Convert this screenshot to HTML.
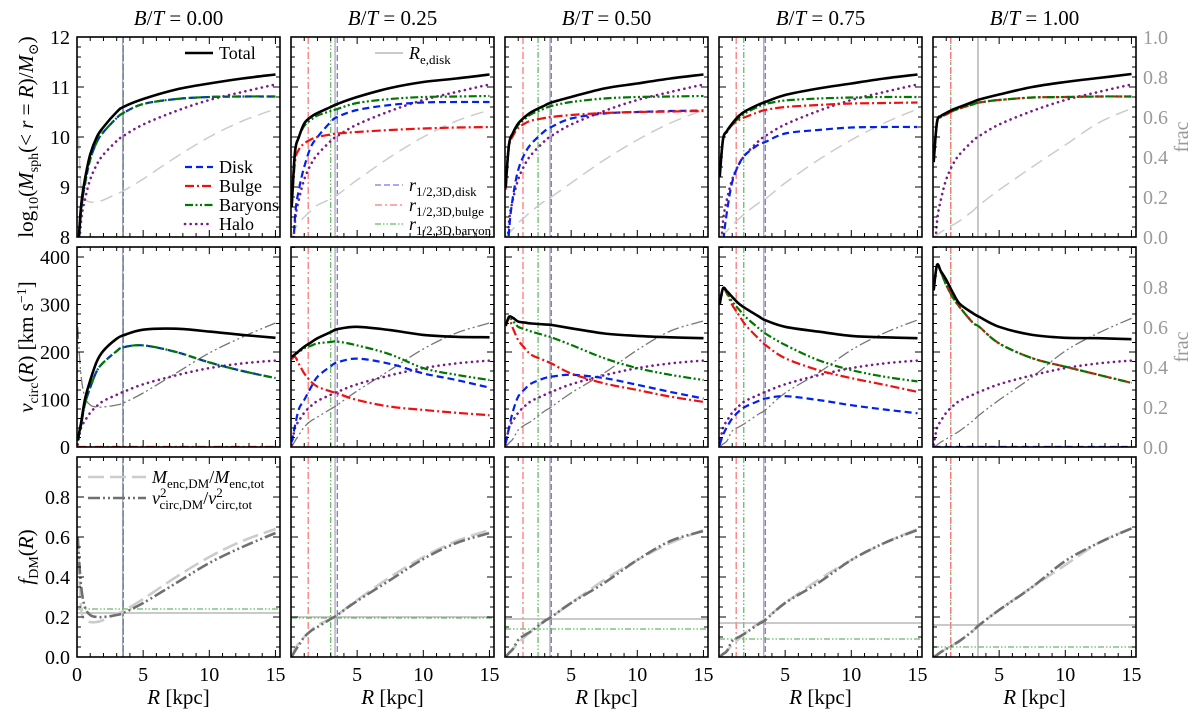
<!DOCTYPE html>
<html><head><meta charset="utf-8"><style>
body{margin:0;background:#fff;}
svg{display:block;}
svg text{font-family:"Liberation Serif","DejaVu Serif",serif;}
</style></head><body>
<svg id="fig" width="1200" height="720" viewBox="0 0 1200 720" xmlns="http://www.w3.org/2000/svg" font-family="Liberation Serif, serif"></svg>
<script>
// ---------- data ----------
const R = [0.05,0.3,0.6,1,1.5,2,3,3.5,5,7.5,10,12.5,15];
const titles = ["0.00","0.25","0.50","0.75","1.00"];
const massHalo = [7.3,8.3,8.75,9.15,9.45,9.65,9.92,10.02,10.25,10.52,10.74,10.9,11.05];
const massTotal = [
 [7.6,8.6,9.15,9.65,10.0,10.2,10.5,10.6,10.76,10.95,11.07,11.17,11.25],
 [8.6,9.7,10.0,10.27,10.4,10.48,10.6,10.66,10.8,10.98,11.1,11.17,11.25],
 [9.0,9.85,10.08,10.27,10.4,10.5,10.63,10.69,10.8,10.97,11.07,11.17,11.25],
 [9.2,9.95,10.12,10.27,10.42,10.52,10.65,10.7,10.84,10.97,11.07,11.17,11.25],
 [9.5,10.3,10.42,10.48,10.55,10.6,10.7,10.75,10.85,11.0,11.1,11.18,11.26]];
const massBaryon = [
 [7.5,8.5,9.05,9.55,9.9,10.1,10.38,10.48,10.66,10.76,10.8,10.81,10.81],
 [8.6,9.7,10.0,10.22,10.34,10.43,10.52,10.56,10.68,10.76,10.8,10.81,10.82],
 [9.0,9.85,10.07,10.24,10.36,10.46,10.57,10.62,10.7,10.77,10.8,10.81,10.82],
 [9.2,9.95,10.1,10.25,10.38,10.48,10.61,10.66,10.73,10.77,10.79,10.8,10.8],
 [9.5,10.28,10.4,10.45,10.52,10.57,10.65,10.69,10.74,10.79,10.8,10.81,10.81]];
const massBulge = [
 null,
 [8.6,9.5,9.75,9.87,9.95,10.0,10.05,10.07,10.1,10.14,10.17,10.19,10.2],
 [8.95,9.8,10.02,10.18,10.27,10.33,10.38,10.4,10.44,10.48,10.5,10.51,10.52],
 [9.2,9.95,10.1,10.24,10.34,10.4,10.5,10.54,10.6,10.64,10.67,10.68,10.69],
 [9.5,10.28,10.4,10.45,10.52,10.57,10.65,10.69,10.74,10.79,10.8,10.81,10.81]];
const massDisk = [
 [7.5,8.5,9.05,9.55,9.9,10.1,10.38,10.48,10.66,10.76,10.8,10.81,10.81],
 [7.0,8.4,8.95,9.4,9.8,10.0,10.3,10.4,10.54,10.64,10.69,10.7,10.7],
 [6.7,8.1,8.8,9.34,9.67,9.87,10.12,10.2,10.37,10.47,10.5,10.52,10.53],
 [6.4,7.8,8.5,9.1,9.45,9.65,9.85,9.9,10.07,10.14,10.19,10.2,10.2],
 null];
const fracM = [
 [0.6,0.25,0.19,0.175,0.175,0.185,0.215,0.23,0.29,0.4,0.5,0.58,0.64],
 [0.0,0.04,0.07,0.1,0.13,0.16,0.19,0.21,0.285,0.4,0.5,0.58,0.635],
 [0.0,0.02,0.04,0.07,0.1,0.13,0.18,0.2,0.27,0.385,0.485,0.57,0.635],
 [0.0,0.015,0.03,0.06,0.09,0.12,0.17,0.19,0.27,0.385,0.485,0.57,0.64],
 [0.0,0.01,0.025,0.04,0.06,0.08,0.13,0.16,0.235,0.35,0.46,0.57,0.643]];
const fracV = [
 [0.6,0.36,0.25,0.21,0.2,0.2,0.21,0.22,0.27,0.37,0.47,0.55,0.62],
 [0.0,0.03,0.06,0.1,0.13,0.15,0.19,0.21,0.28,0.385,0.49,0.57,0.62],
 [0.0,0.02,0.04,0.085,0.11,0.13,0.18,0.2,0.27,0.37,0.485,0.58,0.63],
 [0.0,0.015,0.03,0.08,0.1,0.12,0.165,0.185,0.27,0.37,0.485,0.57,0.635],
 [0.0,0.01,0.025,0.04,0.06,0.08,0.13,0.16,0.235,0.35,0.48,0.57,0.643]];
const vHalo = [5,40,55,72,86,97,110,116,132,151,166,176,182];
const vTotal = [
 [15,50,100,140,180,203,228,235,247,249,243,236,230],
 [190,195,202,211,220,229,242,248,253,246,236,232,231],
 [255,274,272,264,262,260,258,257,250,239,234,231,229],
 [300,334,328,316,302,292,275,267,253,243,234,231,229],
 [330,383,370,352,325,302,282,274,253,236,230,229,227]];
const vBaryon = [
 [13,45,90,125,160,178,202,210,214,200,178,160,145],
 [190,195,200,208,213,218,221,222,214,195,166,152,141],
 [255,272,265,253,248,243,235,231,215,187,166,152,141],
 [300,333,325,306,290,274,250,239,215,183,162,148,138],
 [330,383,368,341,315,295,262,253,218,187,169,152,135]];
const vBulge = [
 [0,0,0,0,0,0,0,0,0,0,0,0,0],
 [185,190,175,155,138,127,117,113,99,85,78,72,67],
 [255,270,250,225,208,194,182,176,155,134,120,106,95],
 [300,333,323,299,278,257,228,215,187,162,145,131,116],
 [330,383,368,341,315,295,262,253,218,187,169,152,135]];
const vDisk = [
 [13,45,90,125,160,178,202,210,214,200,178,160,145],
 [10,45,80,99,125,148,170,178,186,175,155,141,125],
 [8,40,75,106,122,134,145,148,152,145,131,116,102],
 [5,25,42,60,75,85,97,102,107,99,88,79,71],
 [0,0,0,0,0,0,0,0,0,0,0,0,0]];
const rRe = [3.45,3.33,3.4,3.38,3.4];
const rDisk = [3.5,3.5,3.5,3.5,null];
const rBulge = [null,1.3,1.36,1.3,1.34];
const rBary = [3.5,3.0,2.5,1.87,1.34];
const fdmAtRe = [0.22,0.2,0.19,0.17,0.16];
const fdmAtBary = [0.24,0.195,0.14,0.09,0.05];
const massTicks = [8,9,10,11,12];
const vTicks = [0,100,200,300,400];
const fTicks = ["0.0","0.2","0.4","0.6","0.8"];
const fracTicks = ["0.0","0.2","0.4","0.6","0.8","1.0"];
const xTicks = [0,5,10,15];

// ---------- layout ----------
const NS="http://www.w3.org/2000/svg";
const svg=document.getElementById('fig');
const LEFT=[77,291,505,719,933], PW=203, XS=13.23;
const ROWS=[{t:37,b:237},{t:247,b:447},{t:457,b:657}];
const FONT='Liberation Serif, DejaVu Serif, serif';
function el(tag,attrs,parent){const e=document.createElementNS(NS,tag);for(const k in attrs)e.setAttribute(k,attrs[k]);(parent||svg).appendChild(e);return e;}
const X=(c,r)=>LEFT[c]+r*XS;
const yMass=m=>237-(m-8)*50;
const yV=v=>447-v*0.475;
const yF=(row,f)=>ROWS[row].b-f*200;

function smooth(pts){
 let d=`M${pts[0][0].toFixed(1)},${pts[0][1].toFixed(1)}`;
 for(let i=0;i<pts.length-1;i++){
  const p0=pts[Math.max(0,i-1)],p1=pts[i],p2=pts[i+1],p3=pts[Math.min(pts.length-1,i+2)];
  const c1=[p1[0]+(p2[0]-p0[0])/6,p1[1]+(p2[1]-p0[1])/6];
  const c2=[p2[0]-(p3[0]-p1[0])/6,p2[1]-(p3[1]-p1[1])/6];
  d+=`C${c1[0].toFixed(1)},${c1[1].toFixed(1)} ${c2[0].toFixed(1)},${c2[1].toFixed(1)} ${p2[0].toFixed(1)},${p2[1].toFixed(1)}`;
 }
 return d;
}
const STY={
 total:{stroke:'#000','stroke-width':2.6},
 disk:{stroke:'#0022ee','stroke-width':2.2,'stroke-dasharray':'7 4'},
 bulge:{stroke:'#ee1111','stroke-width':2.2,'stroke-dasharray':'9 3 2 3'},
 baryon:{stroke:'#007700','stroke-width':2.2,'stroke-dasharray':'8 2.5 2 2.5 2 2.5'},
 halo:{stroke:'#7a1a8a','stroke-width':2.6,'stroke-dasharray':'0.1 5.5','stroke-linecap':'round'},
 fM1:{stroke:'#cccccc','stroke-width':1.5,'stroke-dasharray':'13 7'},
 fV2:{stroke:'#777','stroke-width':1.3,'stroke-dasharray':'12 3 2 3 2 3'},
 fM3:{stroke:'#cccccc','stroke-width':2.6,'stroke-dasharray':'16 6'},
 fV3:{stroke:'#707070','stroke-width':2.6,'stroke-dasharray':'12 3 2 3 2 3'}
};
function curve(c,row,vals,ymap,style,name){
 if(!vals)return;
 const pts=R.map((r,i)=>[X(c,r),ymap(vals[i])]);
 const p=el('path',Object.assign({d:smooth(pts),fill:'none','clip-path':`url(#clip${row}${c})`},STY[style]));
 
 
}
const defs=el('defs',{});
for(let row=0;row<3;row++)for(let c=0;c<5;c++){
 const cp=el('clipPath',{id:`clip${row}${c}`},defs);
 el('rect',{x:LEFT[c],y:ROWS[row].t,width:PW,height:ROWS[row].b-ROWS[row].t},cp);
}
function vline(c,row,r,color,dash,name){
 if(r==null)return;
 const l=el('line',{x1:X(c,r),x2:X(c,r),y1:ROWS[row].t,y2:ROWS[row].b,stroke:color,'stroke-width':1.3,'stroke-dasharray':dash||'none'});
 
 
}
function hline(c,row,f,color,dash,name){
 const l=el('line',{x1:LEFT[c],x2:LEFT[c]+PW,y1:yF(row,f),y2:yF(row,f),stroke:color,'stroke-width':1.3,'stroke-dasharray':dash||'none'});
 
 
}
function txt(x,y,s,attrs,name){
 const t=el('text',Object.assign({x:x,y:y,'font-family':FONT},attrs||{}));t.innerHTML=s;
 
 
 return t;
}

for(let c=0;c<5;c++){
 txt(LEFT[c]+PW/2,25,`<tspan font-style="italic">B</tspan>/<tspan font-style="italic">T</tspan> = ${titles[c]}`,{'text-anchor':'middle','font-size':21},'panel-title');
 for(let row=0;row<3;row++){
  vline(c,row,rRe[c],'#aaaaaa',null,'re-disk-line');
  vline(c,row,rBary[c],'#66bb66','6 2 1.5 2 1.5 2','r-half-baryon-line');
  vline(c,row,rBulge[c],'#ff7777','7 3 2 3','r-half-bulge-line');
  vline(c,row,rDisk[c],'#7777ee','6 3','r-half-disk-line');
 }
 curve(c,0,fracM[c],f=>yF(0,f),'fM1','dm-mass-fraction-curve');
 curve(c,0,massHalo,yMass,'halo','halo-mass-curve');
 curve(c,0,massDisk[c],yMass,'disk','disk-mass-curve');
 curve(c,0,massBulge[c],yMass,'bulge','bulge-mass-curve');
 curve(c,0,massBaryon[c],yMass,'baryon','baryon-mass-curve');
 curve(c,0,massTotal[c],yMass,'total','total-mass-curve');
 curve(c,1,fracV[c],f=>yF(1,f),'fV2','dm-v2-fraction-curve');
 curve(c,1,vHalo,yV,'halo','halo-vcirc-curve');
 curve(c,1,vDisk[c],yV,'disk','disk-vcirc-curve');
 curve(c,1,vBulge[c],yV,'bulge','bulge-vcirc-curve');
 curve(c,1,vBaryon[c],yV,'baryon','baryon-vcirc-curve');
 curve(c,1,vTotal[c],yV,'total','total-vcirc-curve');
 hline(c,2,fdmAtRe[c],'#aaaaaa',null,'fdm-at-re-line');
 hline(c,2,fdmAtBary[c],'#66bb66','6 2 1.5 2 1.5 2','fdm-at-baryon-line');
 curve(c,2,fracM[c],f=>yF(2,f),'fM3','fdm-mass-curve');
 curve(c,2,fracV[c],f=>yF(2,f),'fV3','fdm-vcirc-curve');

 for(let row=0;row<3;row++){
  const t=ROWS[row].t,b=ROWS[row].b,L=LEFT[c],Rr=L+PW;
  for(let r=0;r<=15;r++){
   const x=X(c,r),len=(r%5===0)?7:4;
   el('line',{x1:x,x2:x,y1:b,y2:b-len,stroke:'#000','stroke-width':1});
   el('line',{x1:x,x2:x,y1:t,y2:t+len,stroke:'#000','stroke-width':1});
  }
  let n=row===0?20:(row===1?21:20);
  for(let k=0;k<=n;k++){
   const y=b-k*(row===1?9.5:10);
   if(y<t)break;
   const major=row===0?(k%5===0):(row===1?(k%10===0):(k%4===0));
   const len=major?7:4;
   el('line',{x1:L,x2:L+len,y1:y,y2:y,stroke:'#000','stroke-width':1});
   el('line',{x1:Rr,x2:Rr-len,y1:y,y2:y,stroke:'#000','stroke-width':1});
  }
  const fr=el('rect',{x:L,y:t,width:PW,height:b-t,fill:'none',stroke:'#000','stroke-width':1.6});
  
  
 }
 xTicks.forEach(v=>{ if(c>0&&v===0)return; txt(X(c,v),681,v,{'text-anchor':'middle','font-size':20},'x-tick-label');});
 txt(LEFT[c]+PW/2,704,'<tspan font-style="italic">R</tspan> [kpc]',{'text-anchor':'middle','font-size':21},'x-axis-title');
}
massTicks.forEach(v=>txt(70,yMass(v)+7,v,{'text-anchor':'end','font-size':20},'y-tick-label'));
vTicks.forEach(v=>txt(70,yV(v)+7,v,{'text-anchor':'end','font-size':20},'y-tick-label'));
fTicks.forEach(v=>txt(70,yF(2,+v)+7,v,{'text-anchor':'end','font-size':20},'y-tick-label'));
fracTicks.forEach(v=>txt(1143,yF(0,+v)+7,v,{'font-size':20,fill:'#999'},'frac-tick-label'));
fracTicks.slice(0,5).forEach(v=>txt(1143,yF(1,+v)+7,v,{'font-size':20,fill:'#999'},'frac-tick-label'));
txt(0,0,'frac',{'font-size':20,fill:'#999',transform:'translate(1188,137) rotate(-90)','text-anchor':'middle'},'frac-axis-title');
txt(0,0,'frac',{'font-size':20,fill:'#999',transform:'translate(1188,347) rotate(-90)','text-anchor':'middle'},'frac-axis-title');
txt(0,0,'log<tspan font-size="14" dy="5">10</tspan><tspan dy="-5">(</tspan><tspan font-style="italic">M</tspan><tspan font-size="14" dy="5">sph</tspan><tspan dy="-5">(&lt; </tspan><tspan font-style="italic">r</tspan> = <tspan font-style="italic">R</tspan>)/<tspan font-style="italic">M</tspan><tspan font-size="14" dy="5">⊙</tspan><tspan dy="-5">)</tspan>',{'font-size':21,transform:'translate(33,137) rotate(-90)','text-anchor':'middle'},'y-axis-title-mass');
txt(0,0,'<tspan font-style="italic">v</tspan><tspan font-size="14" dy="5">circ</tspan><tspan dy="-5">(</tspan><tspan font-style="italic">R</tspan>) [km s<tspan font-size="14" dy="-7">−1</tspan><tspan dy="7">]</tspan>',{'font-size':21,transform:'translate(33,347) rotate(-90)','text-anchor':'middle'},'y-axis-title-vcirc');
txt(0,0,'<tspan font-style="italic">f</tspan><tspan font-size="14" dy="5">DM</tspan><tspan dy="-5">(</tspan><tspan font-style="italic">R</tspan>)',{'font-size':21,transform:'translate(33,557) rotate(-90)','text-anchor':'middle'},'y-axis-title-fdm');

function legLine(x,y,style,label,name,w){
 const g=el('g',{});
 
 
 el('line',Object.assign({x1:x,x2:x+(w||28),y1:y,y2:y},STY[style]||style),g);
 const t=el('text',{x:x+(w||28)+6,y:y+6,'font-size':18,'font-family':FONT},g);t.innerHTML=label;
}
legLine(185,53,'total','Total','legend-total');
legLine(185,167,'disk','Disk','legend-disk');
legLine(185,186,'bulge','Bulge','legend-bulge');
legLine(185,205,'baryon','Baryons','legend-baryons');
legLine(185,224,'halo','Halo','legend-halo');
legLine(375,53,{stroke:'#aaa','stroke-width':1.3},'<tspan font-style="italic">R</tspan><tspan font-size="13" dy="5">e,disk</tspan>','legend-re-disk');
legLine(375,185,{stroke:'#7777ee','stroke-width':1.3,'stroke-dasharray':'6 3'},'<tspan font-style="italic">r</tspan><tspan font-size="13" dy="5">1/2,3D,disk</tspan>','legend-r-disk');
legLine(375,205,{stroke:'#ff7777','stroke-width':1.3,'stroke-dasharray':'7 3 2 3'},'<tspan font-style="italic">r</tspan><tspan font-size="13" dy="5">1/2,3D,bulge</tspan>','legend-r-bulge');
legLine(375,224,{stroke:'#66bb66','stroke-width':1.3,'stroke-dasharray':'6 2 1.5 2 1.5 2'},'<tspan font-style="italic">r</tspan><tspan font-size="13" dy="5">1/2,3D,baryon</tspan>','legend-r-baryon');
legLine(88,477,'fM3','<tspan font-style="italic">M</tspan><tspan font-size="13" dy="5">enc,DM</tspan><tspan dy="-5">/</tspan><tspan font-style="italic">M</tspan><tspan font-size="13" dy="5">enc,tot</tspan>','legend-fdm-mass',58);
legLine(88,498,'fV3','<tspan font-style="italic">v</tspan><tspan font-size="13" dy="-7">2</tspan><tspan font-size="13" dx="-7" dy="12">circ,DM</tspan><tspan dy="-5">/</tspan><tspan font-style="italic">v</tspan><tspan font-size="13" dy="-7">2</tspan><tspan font-size="13" dx="-7" dy="12">circ,tot</tspan>','legend-fdm-vcirc',58);
</script>
</body></html>
